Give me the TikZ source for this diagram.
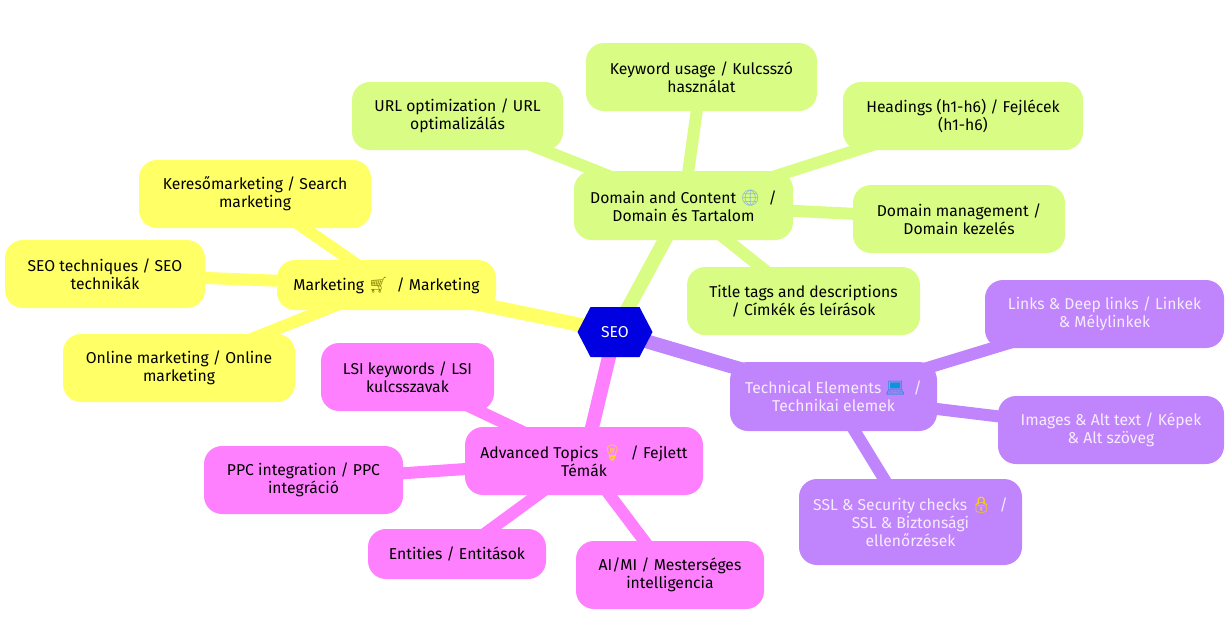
\documentclass[tikz,border=0pt]{standalone}
\usepackage{fontspec}
\setmainfont{Fira Sans}
\newfontfamily\emojifont{Noto Emoji}
\usepackage{xcolor}
\usepackage{tikz}
\usetikzlibrary{shapes.symbols,backgrounds}
\definecolor{domaingreen}{RGB}{217,252,133}
\definecolor{marketyellow}{RGB}{255,255,102}
\definecolor{techpurple}{RGB}{192,132,252}
\definecolor{advpink}{RGB}{255,128,255}
\definecolor{rootblue}{RGB}{0,0,224}
\definecolor{techtext}{RGB}{246,236,255}
\newcommand{\emo}[2]{{\emojifont\color{#1}#2}}

\begin{document}
\begin{tikzpicture}[x=1pt,y=-1pt]
  \tikzset{
    box/.style={rectangle,rounded corners=18pt,inner sep=0pt,align=center,font=\fontsize{15.7}{18}\selectfont,text=black},
    green/.style={box,fill=domaingreen}, yellow/.style={box,fill=marketyellow},
    purple/.style={box,fill=techpurple,text=techtext}, pink/.style={box,fill=advpink},
    rootnode/.style={shape=signal,signal to=west and east,signal pointer angle=125,fill=rootblue,text=white,
      minimum width=75pt,minimum height=50pt,inner sep=0pt,font=\fontsize{15.7}{18}\selectfont},
    trunk/.style={line width=14pt},
    twig/.style={line width=12pt},
  }
  \useasboundingbox (0,0) rectangle (1232,627);

  \node[rootnode] (seo) at (615,332) {SEO};

  \node[green,minimum width=219pt,minimum height=69pt] (domain) at (683.5,205.5) {Domain and Content \emo{cyan!60!blue!50}{🌐} \ /\\Domain és Tartalom};
  \node[green,minimum width=231pt,minimum height=68pt] (keyword) at (701.5,77) {Keyword usage / Kulcsszó\\használat};
  \node[green,minimum width=211pt,minimum height=68pt] (url) at (457.5,116) {URL optimization / URL\\optimalizálás};
  \node[green,minimum width=240pt,minimum height=68pt] (headings) at (963,116) {Headings (h1-h6) / Fejlécek\\(h1-h6)};
  \node[green,minimum width=212pt,minimum height=68pt] (management) at (959,219) {Domain management /\\Domain kezelés};
  \node[green,minimum width=233pt,minimum height=68pt] (title) at (803.5,301) {Title tags and descriptions\\/ Címkék és leírások};

  \node[purple,minimum width=207pt,minimum height=69pt] (technical) at (833.5,396.5) {Technical Elements \emo{cyan!80!blue}{💻} \ /\\Technikai elemek};
  \node[purple,minimum width=239pt,minimum height=68pt] (links) at (1104.5,314) {Links \& Deep links / Linkek\\\& Mélylinkek};
  \node[purple,minimum width=226pt,minimum height=68pt] (images) at (1111,430) {Images \& Alt text / Képek\\\& Alt szöveg};
  \node[purple,minimum width=223pt,minimum height=86pt] (ssl) at (910.5,522) {SSL \& Security checks \emo{yellow!70!orange}{🔒} \ /\\SSL \& Biztonsági\\ellenőrzések};

  \node[yellow,minimum width=219pt,minimum height=50pt] (marketing) at (386.5,285) {Marketing \emo{olive}{🛒} \ / Marketing};
  \node[yellow,minimum width=232pt,minimum height=68pt] (search) at (255,194) {Keresőmarketing / Search\\marketing};
  \node[yellow,minimum width=200pt,minimum height=68pt] (techniques) at (105,274) {SEO techniques / SEO\\technikák};
  \node[yellow,minimum width=232pt,minimum height=68pt] (online) at (179,368) {Online marketing / Online\\marketing};

  \node[pink,minimum width=238pt,minimum height=68pt] (advanced) at (584,461) {Advanced Topics \emo{yellow!90!orange}{💡} \ / Fejlett\\Témák};
  \node[pink,minimum width=173pt,minimum height=68pt] (lsi) at (407.5,377) {LSI keywords / LSI\\kulcsszavak};
  \node[pink,minimum width=199pt,minimum height=68pt] (ppc) at (303.5,480) {PPC integration / PPC\\integráció};
  \node[pink,minimum width=178pt,minimum height=50pt] (entities) at (457,554) {Entities / Entitások};
  \node[pink,minimum width=188pt,minimum height=68pt] (ai) at (670,575) {AI/MI / Mesterséges\\intelligencia};

  \begin{scope}[on background layer]
    \draw[domaingreen,trunk] (seo.center) -- (domain.center);
    \draw[domaingreen,twig] (domain.center) -- (keyword.center);
    \draw[domaingreen,twig] (domain.center) -- (url.center);
    \draw[domaingreen,twig] (domain.center) -- (headings.center);
    \draw[domaingreen,twig] (domain.center) -- (management.center);
    \draw[domaingreen,twig] (domain.center) -- (title.center);

    \draw[techpurple,trunk] (seo.center) -- (technical.center);
    \draw[techpurple,twig] (technical.center) -- (links.center);
    \draw[techpurple,twig] (technical.center) -- (images.center);
    \draw[techpurple,twig] (technical.center) -- (ssl.center);

    \draw[marketyellow,trunk] (seo.center) -- (marketing.center);
    \draw[marketyellow,twig] (marketing.center) -- (search.center);
    \draw[marketyellow,twig] (marketing.center) -- (techniques.center);
    \draw[marketyellow,twig] (marketing.center) -- (online.center);

    \draw[advpink,trunk] (seo.center) -- (advanced.center);
    \draw[advpink,twig] (advanced.center) -- (lsi.center);
    \draw[advpink,twig] (advanced.center) -- (ppc.center);
    \draw[advpink,twig] (advanced.center) -- (entities.center);
    \draw[advpink,twig] (advanced.center) -- (ai.center);
  \end{scope}
\end{tikzpicture}
\end{document}
